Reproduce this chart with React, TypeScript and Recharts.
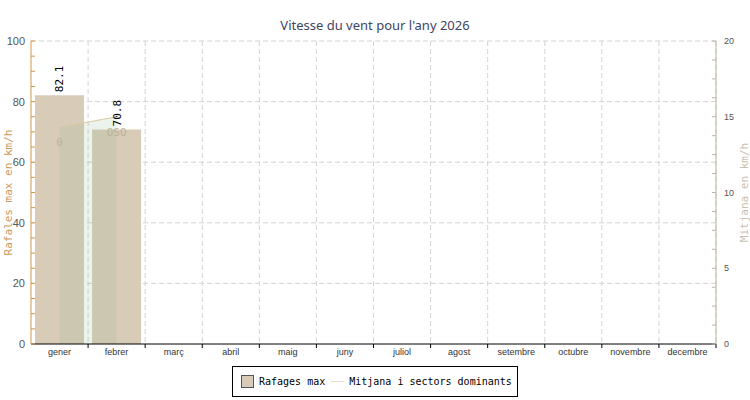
import { ComposedChart, Bar, Area, XAxis, YAxis, CartesianGrid, LabelList } from 'recharts';

const months = ['gener', 'febrer', 'març', 'abril', 'maig', 'juny', 'juliol', 'agost', 'setembre', 'octubre', 'novembre', 'decembre'];
const rafages = [82.1, 70.8, null, null, null, null, null, null, null, null, null, null];
const mitjana = [14.3, 15.0, null, null, null, null, null, null, null, null, null, null];
const sectors = ['0', 'OSO', '', '', '', '', '', '', '', '', '', ''];

const leftTicks = [0, 5, 10, 15, 20, 25, 30, 35, 40, 45, 50, 55, 60, 65, 70, 75, 80, 85, 90, 95, 100];
const rightTicks = [0, 1.25, 2.5, 3.75, 5, 6.25, 7.5, 8.75, 10, 11.25, 12.5, 13.75, 15, 16.25, 17.5, 18.75, 20];
const gridValues = [20, 40, 60, 80, 100];

const data = months.map((m, i) => ({ month: m, rafages: rafages[i], mitjana: mitjana[i], sector: sectors[i] }));

const W = 750;
const H = 400;
const LEFT_W = 31;
const RIGHT_W = 34;
const PLOT_W = W - LEFT_W - RIGHT_W;
const BAND = PLOT_W / months.length;

const mono = '"DejaVu Sans Mono", monospace';
const sans = '"Liberation Sans", Arial, sans-serif';

const XTick = (props: any) => {
  const { x, y, payload } = props;
  return (
    <g>
      <line x1={x + BAND / 2} x2={x + BAND / 2} y1={y} y2={y + 4} stroke="#000" />
      <text x={x} y={y + 11} textAnchor="middle" fontSize={9} fontFamily={sans} fill="#333">
        {payload.value}
      </text>
    </g>
  );
};

const LeftTick = (props: any) => {
  const { x, y, payload } = props;
  const v = payload.value;
  return (
    <g>
      <line x1={x} x2={x + 4} y1={y} y2={y} stroke="#d4954a" />
      {v % 20 === 0 && (
        <text x={x - 6} y={y + 4} textAnchor="end" fontSize={11} fontFamily={sans} fill="#555">
          {v}
        </text>
      )}
    </g>
  );
};

const RightTick = (props: any) => {
  const { x, y, payload } = props;
  const v = payload.value;
  return (
    <g>
      <line x1={x - 4} x2={x} y1={y} y2={y} stroke="#bdb5a5" />
      {v % 5 === 0 && (
        <text x={x + 8} y={y + 3} textAnchor="start" fontSize={9} fontFamily={sans} fill="#555">
          {v}
        </text>
      )}
    </g>
  );
};

const BarValue = (props: any) => {
  const { x, y, width, value } = props;
  if (value == null) return null;
  const cx = x + width / 2 + 4;
  const ty = y - 3;
  return (
    <text x={cx} y={ty} transform={`rotate(-90 ${cx} ${ty})`} textAnchor="start" fontSize={11} fontFamily={mono} fill="#000">
      {value}
    </text>
  );
};

const SectorLabel = (props: any) => {
  const { x, y, value } = props;
  if (!value) return null;
  return (
    <text x={x} y={y + 19} textAnchor="middle" fontSize={11} fontFamily={mono} fill="#bdb09a">
      {value}
    </text>
  );
};

export default function App() {
  return (
    <div style={{ position: 'relative', width: W, height: H, background: '#fff' }}>
      <style>{`body { margin: 0; }`}</style>
      <div
        style={{
          position: 'absolute',
          top: 16,
          left: 0,
          width: W,
          textAlign: 'center',
          fontFamily: '"Noto Sans", sans-serif',
          fontSize: 13,
          lineHeight: '18px',
          color: '#3e4563',
        }}
      >
        Vitesse du vent pour l'any 2026
      </div>
      <ComposedChart width={W} height={H} data={data} margin={{ top: 41, right: 0, bottom: 36, left: 0 }} barCategoryGap={4}>
        <CartesianGrid
          stroke="#d3d3d3"
          strokeDasharray="5 3"
          horizontalCoordinatesGenerator={({ offset }: any) =>
            gridValues.map(v => offset.top + offset.height * (1 - v / 100))
          }
          verticalCoordinatesGenerator={({ offset }: any) =>
            months.map((_, i) => offset.left + (i + 1) * (offset.width / months.length))
          }
        />
        <XAxis
          dataKey="month"
          height={20}
          stroke="#000"
          tickLine={false}
          tickSize={0}
          tickMargin={0}
          tick={<XTick />}
          interval={0}
        />
        <YAxis
          yAxisId="left"
          width={LEFT_W}
          domain={[0, 100]}
          ticks={leftTicks}
          interval={0}
          stroke="#d4954a"
          tickLine={false}
          tickSize={0}
          tickMargin={0}
          tick={<LeftTick />}
          label={{
            value: 'Rafales max en km/h',
            angle: -90,
            position: 'center',
            dx: -7,
            style: { fontFamily: mono, fontSize: 11, fill: '#cf9a5c', textAnchor: 'middle' },
          }}
        />
        <YAxis
          yAxisId="right"
          orientation="right"
          width={RIGHT_W}
          domain={[0, 20]}
          ticks={rightTicks}
          interval={0}
          stroke="#bdb5a5"
          tickLine={false}
          tickSize={0}
          tickMargin={0}
          tick={<RightTick />}
          label={{
            value: 'Mitjana en km/h',
            angle: -90,
            position: 'center',
            dx: 11,
            style: { fontFamily: mono, fontSize: 11, fill: '#c9c1b1', textAnchor: 'middle' },
          }}
        />
        <Bar yAxisId="left" dataKey="rafages" fill="#d8cbb7" isAnimationActive={false} zIndex={300}>
          <LabelList dataKey="rafages" content={<BarValue />} />
        </Bar>
        <Area
          yAxisId="right"
          type="linear"
          dataKey="mitjana"
          stroke="#dcc9a3"
          strokeWidth={1}
          fill="rgb(140,185,140)"
          fillOpacity={0.17}
          dot={false}
          activeDot={false}
          isAnimationActive={false}
          zIndex={350}
        >
          <LabelList dataKey="sector" content={<SectorLabel />} />
        </Area>
      </ComposedChart>
      <div
        style={{
          position: 'absolute',
          left: 232,
          top: 366,
          width: 286,
          height: 31,
          boxSizing: 'border-box',
          border: '1px solid #000',
          background: '#fff',
          display: 'flex',
          alignItems: 'center',
          fontFamily: mono,
          fontSize: 10,
          color: '#000',
        }}
      >
        <span style={{ display: 'inline-block', width: 11, height: 11, marginLeft: 8, background: '#d8cbb7', border: '1px solid #555' }} />
        <span style={{ marginLeft: 5 }}>Rafages max</span>
        <span style={{ display: 'inline-block', width: 13, height: 1, marginLeft: 6, background: '#eadfc8' }} />
        <span style={{ marginLeft: 5 }}>Mitjana i sectors dominants</span>
      </div>
    </div>
  );
}
